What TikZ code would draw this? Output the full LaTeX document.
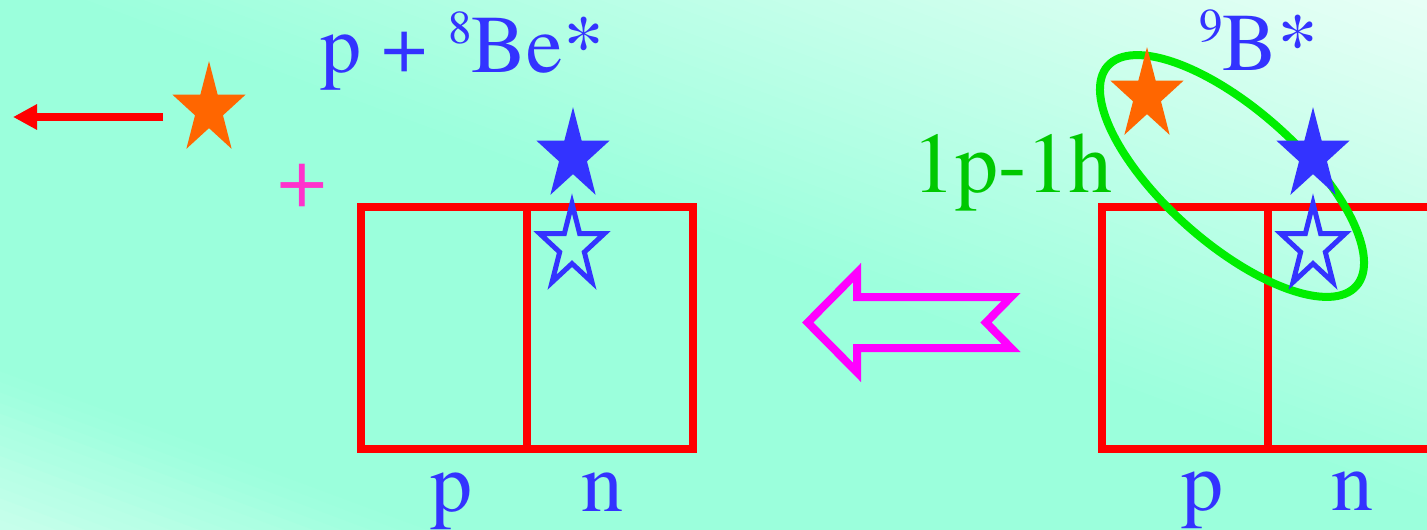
\documentclass[tikz,border=0pt]{standalone}
\usepackage{fontspec}
\IfFontExistsTF{texgyretermes-regular.otf}
  {\newfontfamily\timesf{texgyretermes-regular.otf}}
  {\newfontfamily\timesf{Latin Modern Roman}}
\usetikzlibrary{arrows.meta}
\definecolor{bgD}{RGB}{155,255,220}
\definecolor{bgLa}{RGB}{200,255,236}
\definecolor{bgLb}{RGB}{232,255,246}
\definecolor{txtblue}{RGB}{51,51,255}
\definecolor{starorange}{RGB}{255,102,0}
\definecolor{boxred}{RGB}{255,0,0}
\definecolor{arrmag}{RGB}{255,0,255}
\definecolor{pluspink}{RGB}{255,51,204}
\definecolor{ringgreen}{RGB}{0,238,0}
\definecolor{txtgreen}{RGB}{0,200,0}
\newcommand{\mystar}[5]{%
  \path[#1, shift={(#2,#3)}, xscale=#4, yscale=#5]
    (-90:1) -- (-54:0.382) -- (-18:1) -- (18:0.382) -- (54:1) -- (90:0.382)
    -- (126:1) -- (162:0.382) -- (198:1) -- (234:0.382) -- cycle;}
\tikzset{
  lbl/.style={inner sep=0pt, font=\timesf\fontsize{82}{90}\selectfont, text=txtblue},
  lblb/.style={inner sep=0pt, font=\timesf\fontsize{84}{90}\selectfont, text=txtblue},
  shellbox/.style={draw=boxred, line width=8pt, line join=miter},
  redarrow/.style={draw=boxred, line width=8pt, -{Triangle[length=24pt, width=24pt]}},
  hollowarrow/.style={draw=arrmag, line width=8pt, line join=miter},
  ring/.style={draw=ringgreen, line width=8pt},
}
\begin{document}
\begin{tikzpicture}[x=1pt,y=-1pt]
\useasboundingbox (0,0) rectangle (1427,530);
\begin{scope}
\clip (0,0) rectangle (1427,530);
% background gradient (light - dark - light along the rising diagonal)
\foreach \i in {0,...,99}{
  \pgfmathsetmacro{\a}{\i*0.02}
  \pgfmathsetmacro{\b}{\a+0.022}
  \pgfmathsetmacro{\s}{\a+0.01}
  \pgfmathsetmacro{\pA}{max(0,(0.30-\s)/0.30*100)}
  \pgfmathsetmacro{\pB}{max(0,(\s-1.05)/0.95*100)}
  \colorlet{cc}{bgLa!\pA!bgD}
  \colorlet{cc}{bgLb!\pB!cc}
  \fill[cc] ({1427*(\a-2)},-530) -- ({1427*(\a+1)},1060) -- ({1427*(\b+1)},1060) -- ({1427*(\b-2)},-530) -- cycle;
}
% shell boxes
\draw[shellbox] (361,207) rectangle (527,449);
\draw[shellbox] (527,207) rectangle (693,449);
\draw[shellbox] (1102,207) rectangle (1268,449);
\draw[shellbox] (1268,207) rectangle (1434,449);
% red arrow
\coordinate (aS) at (163,117);
\coordinate (aE) at (13,117);
\draw[redarrow] (aS) -- (aE);
% hollow magenta arrow
\draw[hollowarrow] (807.7,322.5) -- (857,272.7) -- (857,297) -- (1011,297) -- (986,322.5)
  -- (1011,348) -- (857,348) -- (857,372.3) -- cycle;
% green ellipse
\draw[ring, rotate around={-41.5:(1232,176)}] (1232,176) ellipse [x radius=166, y radius=67];
% stars
\mystar{fill=starorange}{209}{109.6}{38.5}{48.5}
\mystar{fill=txtblue}{573}{155.6}{38.5}{48.5}
\mystar{draw=txtblue, line width=5pt, line join=miter}{572}{247}{34}{43.5}
\mystar{fill=starorange}{1147}{95.6}{38.5}{48.5}
\mystar{fill=txtblue}{1313}{155.6}{38.5}{48.5}
\mystar{draw=txtblue, line width=5pt, line join=miter}{1313}{247}{34}{43.5}
% texts
\node[lbl, anchor=base west] (t1) at (320,72) {p + \raisebox{29pt}{\fontsize{47}{47}\selectfont 8}Be*};
\node[lbl, anchor=base west] (t2) at (1199,70) {\raisebox{29pt}{\fontsize{47}{47}\selectfont 9}B*};
\node[lbl, font=\timesf\fontsize{86}{90}\selectfont, text=txtgreen, anchor=base west] (t3) at (912,192) {1p-1h};
\node[lbl, font=\timesf\fontsize{88}{90}\selectfont, text=pluspink, anchor=center] (plus) at (302,186) {+};
\node[lblb, anchor=base] (lp) at (451,511) {p};
\node[lblb, anchor=base] (ln) at (602,511) {n};
\node[lblb, anchor=base] (rp) at (1202,510) {p};
\node[lblb, anchor=base] (rn) at (1352,510) {n};
\end{scope}
\end{tikzpicture}
\end{document}
